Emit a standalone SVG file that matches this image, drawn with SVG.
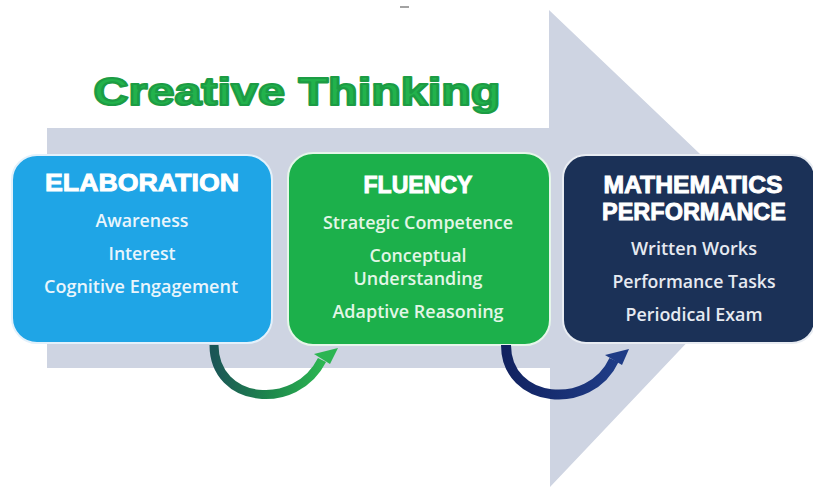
<svg xmlns="http://www.w3.org/2000/svg" width="813" height="487" viewBox="0 0 813 487">
  <style>
    .head { font-family: "Liberation Sans", Arial, sans-serif; font-weight: bold; fill: #ffffff; text-anchor: middle; stroke: #ffffff; stroke-width: 0.9; }
    .item { font-family: "Open Sans", "Noto Sans", sans-serif; font-size: 18px; font-weight: 600; text-anchor: middle; }
    .box { stroke-width: 2; }
  </style>
  <defs>
    <linearGradient id="greenCurve" x1="0" y1="0" x2="1" y2="0">
      <stop offset="0" stop-color="#1b5656"/>
      <stop offset="0.55" stop-color="#1e8a4c"/>
      <stop offset="1" stop-color="#2cb552"/>
    </linearGradient>
    <linearGradient id="navyCurve" x1="0" y1="0" x2="1" y2="0">
      <stop offset="0" stop-color="#112260"/>
      <stop offset="1" stop-color="#1f3c86"/>
    </linearGradient>
  </defs>

  <rect width="813" height="487" fill="#ffffff"/>

  <!-- small dash near the top -->
  <line x1="400" y1="7" x2="409" y2="7" stroke="#666666" stroke-width="1.2"/>

  <!-- big background arrow -->
  <polygon points="47,128 549,128 549,10 787,237 550,487 550,368 47,368" fill="#ced4e2"/>

  <!-- title -->
  <text x="297" y="105" font-family="'Liberation Sans', Arial, sans-serif" font-weight="bold" font-size="38" fill="#22b24c" stroke="#1c9c44" stroke-width="2.2" stroke-linejoin="round" text-anchor="middle" textLength="407" lengthAdjust="spacingAndGlyphs">Creative Thinking</text>

  <!-- nodes -->
  <g id="elaboration">
    <rect class="box" x="12" y="155" width="260" height="188" rx="25" fill="#1fa5e6" stroke="#e3f1fb"/>
    <text class="head" x="142" y="191" font-size="24" textLength="194" lengthAdjust="spacingAndGlyphs">ELABORATION</text>
    <text class="item" x="142" y="227" fill="#e9f5fc" textLength="93" lengthAdjust="spacingAndGlyphs">Awareness</text>
    <text class="item" x="142" y="260" fill="#e9f5fc" textLength="67" lengthAdjust="spacingAndGlyphs">Interest</text>
    <text class="item" x="141" y="293" fill="#e9f5fc" textLength="194" lengthAdjust="spacingAndGlyphs">Cognitive Engagement</text>
  </g>

  <g id="fluency">
    <rect class="box" x="288" y="153" width="262" height="192" rx="25" fill="#1cb04b" stroke="#e6f6ea"/>
    <text class="head" x="418" y="193" font-size="23" textLength="109" lengthAdjust="spacingAndGlyphs">FLUENCY</text>
    <text class="item" x="418" y="229" fill="#e2f6e6" textLength="190" lengthAdjust="spacingAndGlyphs">Strategic Competence</text>
    <text class="item" x="418" y="262" fill="#e2f6e6" textLength="97" lengthAdjust="spacingAndGlyphs">Conceptual</text>
    <text class="item" x="418" y="285" fill="#e2f6e6" textLength="129" lengthAdjust="spacingAndGlyphs">Understanding</text>
    <text class="item" x="418" y="318" fill="#e2f6e6" textLength="171" lengthAdjust="spacingAndGlyphs">Adaptive Reasoning</text>
  </g>

  <g id="mathematics-performance">
    <rect class="box" x="563" y="155" width="252" height="188" rx="23" fill="#1b3157" stroke="#e8ecf2"/>
    <text class="head" x="693" y="193" font-size="24" textLength="179" lengthAdjust="spacingAndGlyphs">MATHEMATICS</text>
    <text class="head" x="694" y="220" font-size="24" textLength="184" lengthAdjust="spacingAndGlyphs">PERFORMANCE</text>
    <text class="item" x="694" y="255" fill="#e6eaf1" textLength="126" lengthAdjust="spacingAndGlyphs">Written Works</text>
    <text class="item" x="694" y="288" fill="#e6eaf1" textLength="163" lengthAdjust="spacingAndGlyphs">Performance Tasks</text>
    <text class="item" x="694" y="321" fill="#e6eaf1" textLength="137" lengthAdjust="spacingAndGlyphs">Periodical Exam</text>
  </g>

  <!-- connectors -->
  <g id="connectors">
    <path d="M 214 345 C 214 404, 296 412, 322 360" fill="none" stroke="url(#greenCurve)" stroke-width="9"/>
    <polygon points="338,348 330,364 314,354" fill="#2cb552"/>
    <path d="M 506 345 C 506 404, 590 412, 614 360" fill="none" stroke="url(#navyCurve)" stroke-width="10"/>
    <polygon points="629,349 622,365 605,355" fill="#1f3c86"/>
  </g>
</svg>
